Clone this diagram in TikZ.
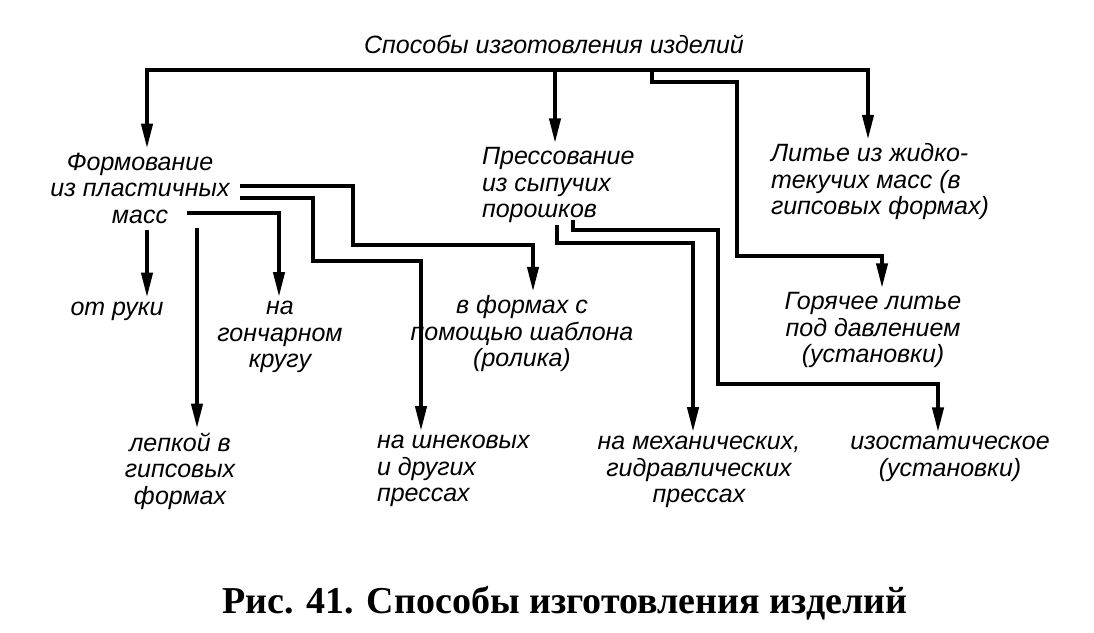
\documentclass[tikz,border=0pt]{standalone}
\usepackage{fontspec}
\setmainfont{Liberation Sans}
\newfontfamily\capfont{Liberation Serif}
\usetikzlibrary{arrows.meta}

\begin{document}
\begin{tikzpicture}[->,>={Triangle[length=25pt,width=11pt]},line width=4pt]
    \tikzstyle{every node}=[inner sep=2pt,align=center,font=\fontsize{25}{26.5}\selectfont\itshape];
    \useasboundingbox (0,0) rectangle (1094pt,-632pt);

    \node (top) at (554pt,-44pt) {Способы изготовления изделий};
    \node[coordinate] (bar) [below of=top, node distance=26pt, xshift=1pt] {};

    \node (form) [below of=top, node distance=144pt, xshift=-414pt] {Формование\\из пластичных\\масс};
    \node (press) [below of=top, node distance=141pt, xshift=-76pt, anchor=west, align=left] {Прессование\\из сыпучих\\порошков};
    \node (cast) [below of=top, node distance=138pt, xshift=213pt, anchor=west, align=left] {Литье из жидко-\\текучих масс (в\\гипсовых формах)};

    \node (hand) [below of=form, node distance=123pt, xshift=-23pt] {от руки};
    \node (wheel) [below of=form, node distance=149pt, xshift=140pt] {на\\гончарном\\кругу};
    \node (templ) [below of=form, node distance=146pt, xshift=382pt] {в формах с\\помощью шаблона\\(ролика)};
    \node (plaster) [below of=form, node distance=283pt, xshift=40pt] {лепкой в\\гипсовых\\формах};
    \node (screw) [below of=form, node distance=283pt, xshift=233pt, anchor=west, align=left] {на шнековых\\и других\\прессах};

    \node (hot) [below of=top, node distance=286pt, xshift=319pt] {Горячее литье\\под давлением\\(установки)};
    \node (mech) [below of=top, node distance=428pt, xshift=145pt] {на механических,\\гидравлических\\прессах};
    \node (iso) [below of=top, node distance=415pt, xshift=396pt] {изостатическое\\(установки)};

    \node (cap) [below of=top, node distance=559pt, xshift=11pt, font=\fontsize{38}{40}\selectfont\capfont\bfseries] {Рис. 41. Способы изготовления изделий};

    \draw[->] (bar) -| ([xshift=7pt]form.north);
    \draw[->] (bar) -- ([xshift=77pt]press.north west);
    \draw[->] (bar) -| ([xshift=101pt]cast.north west);
    \draw[->] ([xshift=97pt]bar) -- ++(0,-12pt) -| (737pt,-256pt) -| ([xshift=9pt]hot.north);

    \draw[->] ([xshift=7pt,yshift=-42pt]form.center) -- ([xshift=30pt]hand.north);
    \draw[->] ([xshift=57pt,yshift=-40pt]form.center) -- ([xshift=17pt]plaster.north);
    \draw[->] ([xshift=47pt,yshift=-25pt]form.center) -| ([xshift=-1pt]wheel.north);
    \draw[->] ([xshift=100pt,yshift=2pt]form.center) -| (353pt,-245pt) -| ([xshift=11pt]templ.north);
    \draw[->] ([xshift=100pt,yshift=-10pt]form.center) -| (313pt,-261pt) -| ([xshift=48pt]screw.north west);

    \draw[->] ([xshift=79pt,yshift=-40pt]press.west) -- ++(0,-18pt) -| ([xshift=-6pt]mech.north);
    \draw[->] ([xshift=95pt,yshift=-35pt]press.west) -- ++(0,-10pt) -| (718pt,-384pt) -| ([xshift=-12pt]iso.north);

\end{tikzpicture}
\end{document}
